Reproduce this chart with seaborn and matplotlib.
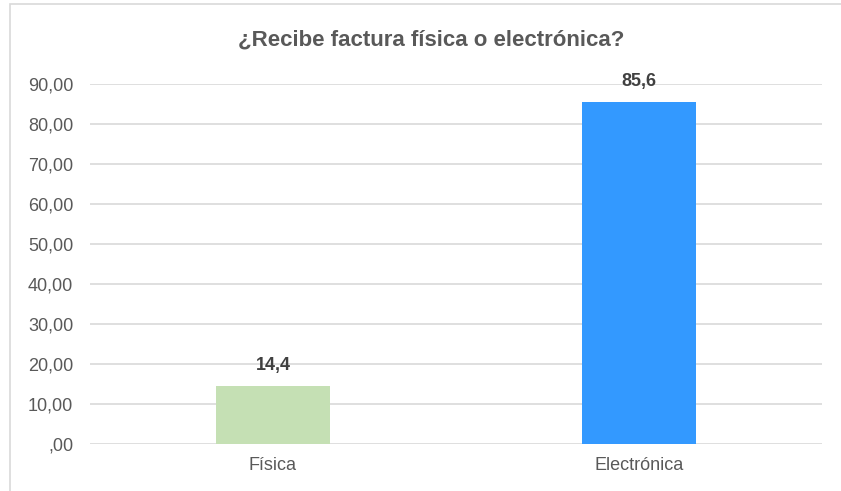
import matplotlib
matplotlib.use("Agg")
import matplotlib.pyplot as plt
import seaborn as sns
import pandas as pd
from matplotlib.patches import Rectangle

categorias = ["Física", "Electrónica"]
valores = [14.4, 85.6]
etiquetas = ["14,4", "85,6"]
colores = ["#C5E0B4", "#3399FF"]
yticks = [0, 10, 20, 30, 40, 50, 60, 70, 80, 90]
ytick_labels = [",00", "10,00", "20,00", "30,00", "40,00", "50,00", "60,00", "70,00", "80,00", "90,00"]
titulo = "¿Recibe factura física o electrónica?"

sns.set_theme(style="white")
plt.rcParams["font.family"] = ["Liberation Sans", "DejaVu Sans"]

df = pd.DataFrame({"cat": categorias, "val": valores})

W, H = 841, 491
fig = plt.figure(figsize=(W / 100, H / 100), dpi=100)
ax = fig.add_axes([90 / W, 1 - 444 / H, (822 - 90) / W, (444 - 84) / H])

sns.barplot(data=df, x="cat", y="val", hue="cat", palette=colores, width=0.314,
            legend=False, ax=ax, saturation=1, linewidth=0)

ax.set_ylim(0, 90)
ax.set_xlim(-0.5, 1.5)
ax.set_yticks(yticks)
ax.set_yticklabels(ytick_labels)
ax.yaxis.grid(True, color="#D9D9D9", linewidth=1.2)
ax.set_axisbelow(True)
for s in ax.spines.values():
    s.set_visible(False)
ax.tick_params(axis="both", length=0, labelsize=13, labelcolor="#595959")
ax.tick_params(axis="y", pad=12)
ax.tick_params(axis="x", pad=9)
ax.set_xlabel("")
ax.set_ylabel("")

for i, (v, t) in enumerate(zip(valores, etiquetas)):
    ax.annotate(t, (i, v), xytext=(0, 11.5), textcoords="offset points",
                ha="center", va="baseline", fontsize=13, fontweight="bold", color="#404040")

fig.text(431 / W, 1 - 40 / H, titulo, ha="center", va="center",
         fontsize=16, fontweight="bold", color="#595959")

fig.patches.append(Rectangle((10 / W, -0.1), 1.2, 1.1 - 4 / H, transform=fig.transFigure,
                             fill=False, edgecolor="#D9D9D9", linewidth=1.2))

fig.savefig("out.png", dpi=100)
